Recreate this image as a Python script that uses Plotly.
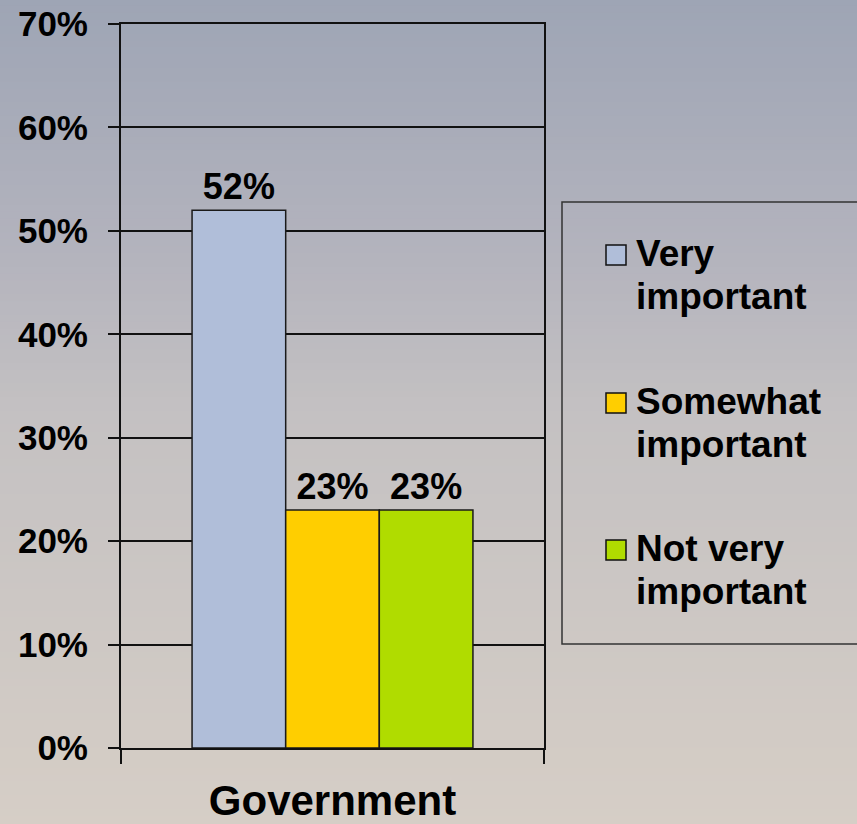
import plotly.graph_objects as go

# Survey data
category = ["Government"]
series_names = ["Very important", "Somewhat important", "Not very important"]
legend_lines = [["Very", "important"], ["Somewhat", "important"], ["Not very", "important"]]
values = [52, 23, 23]
colors = ["#B0BED9", "#FFCE00", "#B0DC00"]
y_ticks = [0, 10, 20, 30, 40, 50, 60, 70]
y_tick_text = [f"{v}%" for v in y_ticks]

W, H = 857, 824
FONT = "Liberation Sans, Arial, sans-serif"

fig = go.Figure()
for name, val, col in zip(series_names, values, colors):
    fig.add_trace(go.Bar(
        x=category, y=[val], name=name,
        marker=dict(color=col, line=dict(color="#1a1a1a", width=1.5)),
        text=[f"{val}%"], textposition="outside",
        textfont=dict(family=FONT, size=36, color="black", weight="bold"),
        cliponaxis=False, showlegend=False,
    ))

# Vertical background gradient (bluish grey at top to warm beige at bottom)
stops = [(0.0, (158, 165, 181)), (0.3, (179, 179, 189)), (0.5, (196, 193, 194)), (1.0, (214, 206, 198))]

def grad(t):
    for (t0, c0), (t1, c1) in zip(stops[:-1], stops[1:]):
        if t0 <= t <= t1:
            f = (t - t0) / (t1 - t0)
            return "rgb(%d,%d,%d)" % tuple(round(a + (b - a) * f) for a, b in zip(c0, c1))
    return "rgb(%d,%d,%d)" % stops[-1][1]

# plot area in pixels
L, R, T, B = 121, 544, 24, 748

def px_x(x):
    return (x - L) / (R - L)

def px_y(y):
    return (B - y) / (B - T)

shapes = []
N = 120
for i in range(N):
    y_top = i * H / N
    y_bot = (i + 1) * H / N + 1
    shapes.append(dict(type="rect", xref="paper", yref="paper", layer="below",
                       x0=px_x(-5), x1=px_x(W + 5), y0=px_y(y_bot), y1=px_y(y_top - 1),
                       line=dict(width=0), fillcolor=grad(i / N)))

# Legend box
shapes.append(dict(type="rect", xref="paper", yref="paper",
                   x0=px_x(562), x1=px_x(W + 10), y0=px_y(644), y1=px_y(202),
                   line=dict(color="#333333", width=1.5), fillcolor="rgba(0,0,0,0)"))

annotations = []
item_tops = [245, 393, 540]
for lines, col, top in zip(legend_lines, colors, item_tops):
    shapes.append(dict(type="rect", xref="paper", yref="paper",
                       x0=px_x(606), x1=px_x(626), y0=px_y(top + 20), y1=px_y(top),
                       line=dict(color="#111111", width=1.5), fillcolor=col))
    for k, line in enumerate(lines):
        annotations.append(dict(xref="paper", yref="paper", x=px_x(634), y=px_y(top + 8 + 43 * k),
                                xanchor="left", yanchor="middle", showarrow=False, text=line,
                                font=dict(family=FONT, size=37, color="black", weight="bold")))

fig.update_layout(
    width=W, height=H,
    margin=dict(l=L, r=W - R, t=T, b=H - B, autoexpand=False),
    paper_bgcolor="rgb(214,206,198)", plot_bgcolor="rgba(0,0,0,0)",
    barmode="group", bargap=0.336, bargroupgap=0,
    shapes=shapes, annotations=annotations,
    showlegend=False,
)
fig.update_yaxes(
    range=[0, 70], tickvals=y_ticks, ticktext=y_tick_text, automargin=False,
    showgrid=True, gridcolor="#111111", gridwidth=1.5,
    showline=True, linecolor="#111111", linewidth=2, mirror=True,
    ticks="outside", ticklen=11, tickcolor="#111111", tickwidth=1.5,
    ticklabelstandoff=13, zeroline=False,
    tickfont=dict(family=FONT, size=35, color="black", weight="bold"),
)
fig.update_xaxes(
    automargin=False,
    showline=True, linecolor="#111111", linewidth=2, mirror=True,
    ticks="outside", tickson="boundaries", ticklen=14, tickcolor="#111111", tickwidth=1.5,
    ticklabelstandoff=15,
    tickfont=dict(family=FONT, size=42, color="black", weight="bold"),
)

fig.write_html("out.html")
